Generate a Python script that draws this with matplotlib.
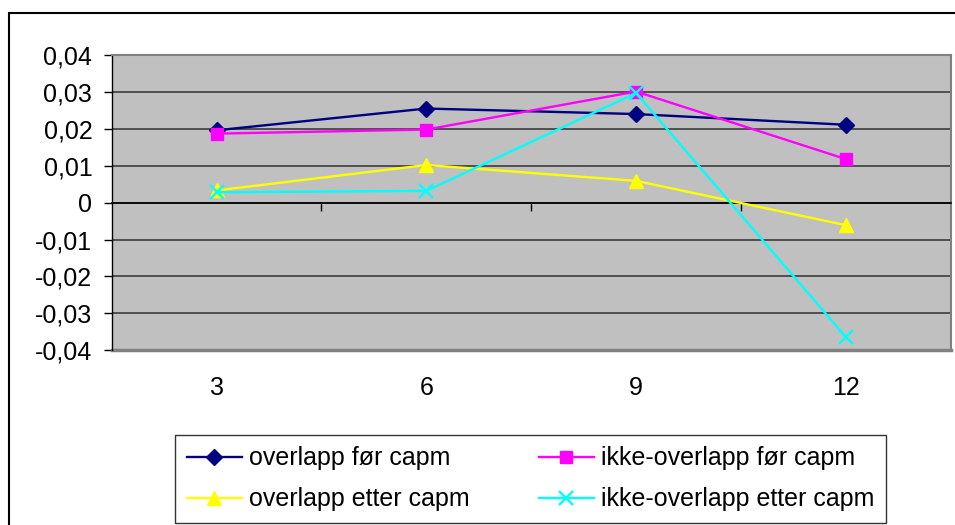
import matplotlib
matplotlib.use('Agg')
from matplotlib import pyplot as plt
from matplotlib.patches import Rectangle

plt.rcParams['font.family'] = ['Liberation Sans', 'DejaVu Sans']

# Data
categories = ['3', '6', '9', '12']
overlapp_for = [0.0196, 0.0255, 0.0240, 0.0211]
ikke_overlapp_for = [0.0187, 0.0198, 0.0301, 0.0118]
overlapp_etter = [0.0033, 0.0102, 0.0059, -0.0061]
ikke_overlapp_etter = [0.0028, 0.0032, 0.0297, -0.0364]
y_ticks = [-0.04, -0.03, -0.02, -0.01, 0, 0.01, 0.02, 0.03, 0.04]
y_labels = ['-0,04', '-0,03', '-0,02', '-0,01', '0', '0,01', '0,02', '0,03', '0,04']

W, H = 955, 525
fig = plt.figure(figsize=(W / 100, H / 100), dpi=100)

# outer chart border (runs off right/bottom edge)
fig.patches.append(Rectangle((9.3 / W, -0.2), 1.5, 1.2 - 13.3 / H,
                             transform=fig.transFigure, fill=False,
                             edgecolor='black', lw=1.5, zorder=0))

ax = fig.add_axes([111.7 / W, 1 - 350.3 / H, 839 / W, 295.3 / H])
ax.set_facecolor('#C0C0C0')
x = list(range(len(categories)))

ax.set_xlim(-0.5, len(categories) - 0.5)
ax.set_ylim(-0.04, 0.04)
ax.set_yticks(y_ticks)
ax.set_yticklabels(y_labels)
ax.yaxis.grid(True, color='#3c3c3c', lw=1.2)
ax.set_axisbelow(True)

ax.plot(x, overlapp_for, color='#000080', lw=1.7, marker='D', ms=8.5,
        label='overlapp før capm', zorder=3)
ax.plot(x, overlapp_etter, color='#FFFF00', lw=1.7, marker='^', ms=10.5,
        label='overlapp etter capm', zorder=3)
ax.plot(x, ikke_overlapp_for, color='#FF00FF', lw=1.7, marker='s', ms=8.5,
        label='ikke-overlapp før capm', zorder=3)
ax.plot(x, ikke_overlapp_etter, color='#00FFFF', lw=1.7, marker='x', ms=10,
        mew=1.7, label='ikke-overlapp etter capm', zorder=4)

# spines: plot area border gray, value axis black, category axis at zero
for s in ['top', 'right']:
    ax.spines[s].set_color('#808080')
    ax.spines[s].set_linewidth(1.5)
ax.spines['left'].set_color('black')
ax.spines['left'].set_linewidth(1.0)
ax.spines['bottom'].set_position(('data', 0))
ax.spines['bottom'].set_color('black')
ax.spines['bottom'].set_linewidth(1.2)
ax.axhline(-0.04, color='#808080', lw=2.5, clip_on=False, zorder=1)

ax.set_xticks([0.5, 1.5, 2.5])
ax.set_xticklabels([])
ax.tick_params(axis='x', direction='out', length=6, width=1, color='black')
ax.tick_params(axis='y', direction='out', length=6, width=1, pad=8,
               labelsize=18)

sec = ax.secondary_xaxis(-0.128)
sec.set_xticks(x)
sec.set_xticklabels(categories)
sec.tick_params(length=0, labelsize=18, pad=0)
sec.spines['bottom'].set_visible(False)
for lab in sec.get_xticklabels():
    lab.set_va('center')

leg = fig.legend(loc='lower left',
                 bbox_to_anchor=(175.3 / W, 1 - 522.7 / H, 710.4 / W, 87.7 / H),
                 bbox_transform=fig.transFigure, mode='expand', ncol=2,
                 fontsize=18, frameon=True, fancybox=False, handlelength=2.2,
                 handletextpad=0.3, borderpad=0.45, labelspacing=0.68,
                 columnspacing=1.0, borderaxespad=0)
leg.get_frame().set_edgecolor('black')
leg.get_frame().set_linewidth(1.0)

fig.savefig('out.png', dpi=100)
